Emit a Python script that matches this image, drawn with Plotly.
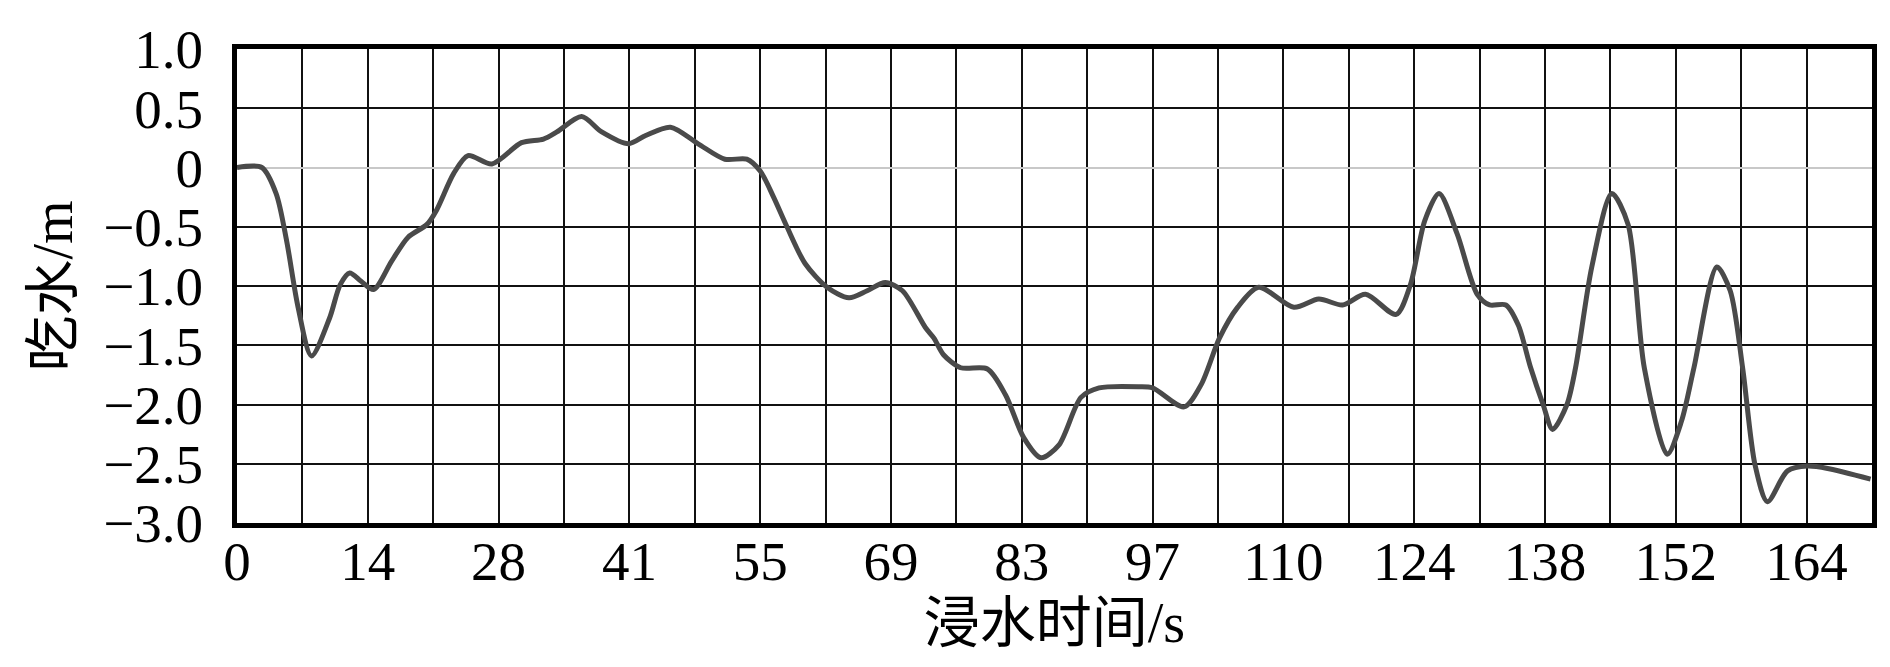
import plotly.graph_objects as go

# 浸水时间 (s) and 吃水 (m)
t_s = [0.0, 2.6, 4.1, 5.2, 6.4, 7.8, 9.7, 10.8, 11.8, 13.0, 14.3, 16.2, 17.9, 19.9, 20.9,
       22.7, 24.2, 26.7, 29.8, 32.1, 33.5, 36.1, 38.2, 41.0, 42.8, 45.4, 48.3, 51.1, 53.4,
       54.8, 56.2, 57.6, 59.5, 61.8, 64.1, 66.0, 67.9, 69.7, 72.1, 73.0, 74.0, 75.8, 78.6,
       80.5, 82.4, 84.2, 86.1, 88.4, 90.3, 94.5, 95.9, 99.2, 101.0, 102.9, 104.8, 107.0,
       110.7, 113.3, 115.8, 118.2, 121.4, 122.9, 124.4, 125.9, 127.8, 129.9, 131.2, 132.9,
       134.2, 135.5, 136.8, 137.8, 139.3, 140.2, 141.9, 144.0, 145.7, 147.4, 149.8, 151.3,
       152.6, 155.0, 156.4, 157.7, 159.0, 160.3, 162.4, 164.5, 166.6, 171.1]
draft_m = [0.0, 0.0, -0.22, -0.62, -1.18, -1.59, -1.27, -0.99, -0.89, -0.96, -1.03, -0.79,
           -0.59, -0.48, -0.36, -0.05, 0.10, 0.03, 0.21, 0.24, 0.30, 0.43, 0.30, 0.20, 0.27,
           0.34, 0.20, 0.07, 0.07, -0.03, -0.25, -0.50, -0.81, -1.01, -1.10, -1.04, -0.97,
           -1.04, -1.35, -1.44, -1.58, -1.69, -1.70, -1.92, -2.28, -2.45, -2.34, -1.94, -1.86,
           -1.85, -1.86, -2.02, -1.83, -1.44, -1.18, -1.01, -1.18, -1.11, -1.16, -1.07, -1.24,
           -0.99, -0.45, -0.22, -0.56, -1.07, -1.16, -1.16, -1.33, -1.69, -2.00, -2.21, -2.00,
           -1.69, -0.84, -0.22, -0.48, -1.69, -2.42, -2.14, -1.69, -0.84, -1.04, -1.69, -2.51,
           -2.82, -2.56, -2.52, -2.54, -2.63]

x_labels = ['0', '14', '28', '41', '55', '69', '83', '97', '110', '124', '138', '152', '164']
y_vals = [1.0, 0.5, 0, -0.5, -1.0, -1.5, -2.0, -2.5, -3.0]
y_labels = ['1.0', '0.5', '0', '−0.5', '−1.0', '−1.5', '−2.0', '−2.5', '−3.0']

step = 13.7  # seconds between labelled ticks
xtickvals = []
xticktext = []
for i, lab in enumerate(x_labels):
    xtickvals += [i * step, i * step + step / 2]
    xticktext += [lab, '']

serif = 'Liberation Serif, Noto Sans CJK SC'

fig = go.Figure()
fig.add_trace(go.Scatter(
    x=t_s, y=draft_m,
    mode='lines',
    line=dict(color='#4a4a4a', width=5, shape='spline', smoothing=0.8),
    showlegend=False,
))

fig.update_layout(
    width=1890, height=667,
    margin=dict(l=229, r=26, t=41, b=152),
    plot_bgcolor='white',
    paper_bgcolor='white',
    font=dict(family=serif, size=55, color='black'),
)

fig.update_xaxes(
    range=[0, len(x_labels) * step - step / 2],
    tickmode='array', tickvals=xtickvals, ticktext=xticktext,
    showgrid=True, gridcolor='#111111', gridwidth=2,
    zeroline=False,
    showline=True, linecolor='black', linewidth=5, mirror=True,
    ticks='', ticklabelstandoff=-14,
    title=dict(text='浸水时间/s', font=dict(family=serif, size=56), standoff=2),
)

fig.update_yaxes(
    range=[-3.0, 1.0],
    tickmode='array', tickvals=y_vals, ticktext=y_labels,
    showgrid=True, gridcolor='#111111', gridwidth=2,
    zeroline=True, zerolinecolor='#c8c8c8', zerolinewidth=2,
    showline=True, linecolor='black', linewidth=5, mirror=True,
    ticks='', ticklabelstandoff=18,
    title=dict(text='吃水/m', font=dict(family=serif, size=56), standoff=14),
)

fig.write_html("out.html")
